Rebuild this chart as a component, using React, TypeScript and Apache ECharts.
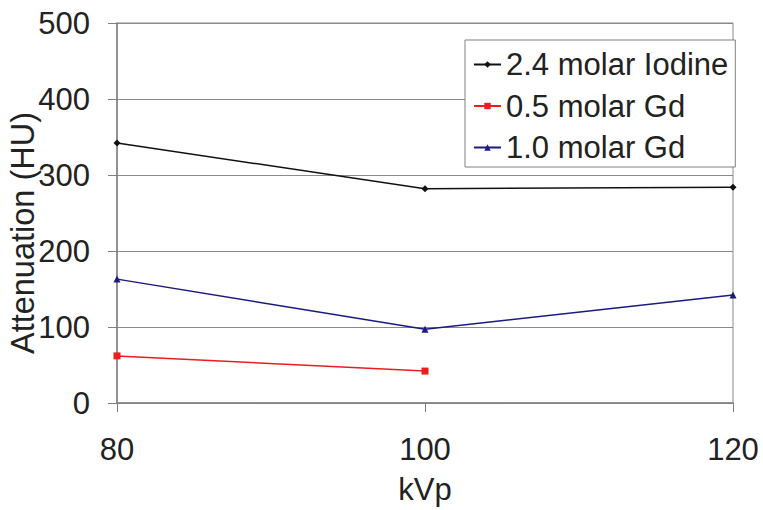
import React, { useEffect, useRef } from "react";
import * as echarts from "echarts";

const kvp = [80, 100, 120];
const iodine24 = [342, 282, 284];
const gd05 = [62, 42];
const gd10 = [163, 97, 142];
const seriesNames = ["2.4 molar Iodine", "0.5 molar Gd", "1.0 molar Gd"];
const yTicks = [0, 100, 200, 300, 400, 500];
const xTicks = [80, 100, 120];

const FONT = "'Liberation Sans', Arial, sans-serif";

export default function App() {
  const ref = useRef<HTMLDivElement>(null);
  useEffect(() => {
    if (!ref.current) return;
    const chart = echarts.init(ref.current, undefined, { renderer: "svg" });
    const pair = (vals: number[]) => vals.map((v, i) => [kvp[i], v]);
    chart.setOption({
      animation: false,
      backgroundColor: "#ffffff",
      textStyle: { fontFamily: FONT },
      grid: {
        left: 117,
        right: 30,
        top: 23,
        bottom: 107,
        show: true,
        borderColor: "#8a8a8a",
        borderWidth: 1,
        outerBoundsMode: "none",
        containLabel: false,
      },
      xAxis: {
        type: "value",
        min: xTicks[0],
        max: xTicks[xTicks.length - 1],
        interval: 20,
        name: "kVp",
        nameLocation: "middle",
        nameGap: 71,
        nameMoveOverlap: false,
        nameTextStyle: { fontSize: 31, color: "#222", fontFamily: FONT },
        axisLine: { show: true, lineStyle: { color: "#808080", width: 1.5 } },
        axisTick: { show: true, length: 9, lineStyle: { color: "#808080" } },
        axisLabel: { fontSize: 31, color: "#222", margin: 31, fontFamily: FONT },
        splitLine: { show: false },
      },
      yAxis: {
        type: "value",
        min: yTicks[0],
        max: yTicks[yTicks.length - 1],
        interval: 100,
        name: "Attenuation (HU)",
        nameLocation: "middle",
        nameGap: 78,
        nameMoveOverlap: false,
        nameTextStyle: {
          fontSize: 32.5,
          color: "#222",
          fontFamily: FONT,
          padding: [0, 40, 0, 0],
        },
        axisLine: { show: true, lineStyle: { color: "#808080", width: 1.5 } },
        axisTick: { show: true, length: 9, lineStyle: { color: "#808080" } },
        axisLabel: { fontSize: 31, color: "#222", margin: 27, fontFamily: FONT },
        splitLine: { show: true, lineStyle: { color: "#8a8a8a", width: 1 } },
      },
      legend: {
        orient: "vertical",
        left: 465,
        top: 40,
        padding: [9, 7, 4, 8],
        itemWidth: 27,
        itemHeight: 8,
        itemGap: 10.5,
        borderColor: "#808080",
        borderWidth: 1,
        backgroundColor: "#ffffff",
        textStyle: { fontSize: 31, color: "#222", lineHeight: 30, fontFamily: FONT },
        data: seriesNames,
      },
      series: [
        {
          name: seriesNames[0],
          type: "line",
          data: pair(iodine24),
          color: "#111111",
          symbol: "diamond",
          symbolSize: 7,
          lineStyle: { width: 1.5, color: "#111111" },
          itemStyle: { color: "#111111" },
        },
        {
          name: seriesNames[1],
          type: "line",
          data: pair(gd05),
          color: "#ee1c1c",
          symbol: "rect",
          symbolSize: 7,
          lineStyle: { width: 1.5, color: "#ee1c1c" },
          itemStyle: { color: "#ee1c1c" },
        },
        {
          name: seriesNames[2],
          type: "line",
          data: pair(gd10),
          color: "#1a1a80",
          symbol: "triangle",
          symbolSize: 7,
          lineStyle: { width: 1.5, color: "#1a1a80" },
          itemStyle: { color: "#1a1a80" },
        },
      ],
    });
    return () => chart.dispose();
  }, []);
  return <div ref={ref} style={{ width: 763, height: 510, position: "absolute", left: 0, top: 0 }} />;
}
